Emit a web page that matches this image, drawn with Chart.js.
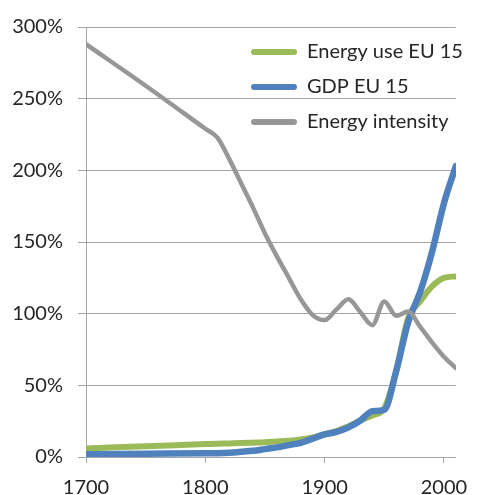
<!DOCTYPE html>
<html>
<head>
<meta charset="utf-8">
<script src="https://cdn.jsdelivr.net/npm/chart.js@4"></script>
<style>
  html, body { margin: 0; padding: 0; background: #ffffff; }
  #wrap { position: relative; width: 480px; height: 495px; }
</style>
</head>
<body>
<div id="wrap"><canvas id="c" width="480" height="495"></canvas></div>
<script>
// ---- data ----
const years = [1700, 1750, 1800, 1810, 1820, 1830, 1840, 1850, 1860, 1870, 1880, 1890, 1900, 1910, 1920, 1930, 1940, 1950, 1960, 1970, 1980, 1990, 2000, 2010];
const energyUse = [6, 7.5, 9, 9.3, 9.5, 9.7, 10, 10.3, 10.8, 11.3, 12.2, 13.6, 16, 18, 21.5, 25.5, 29, 34, 60, 97, 108.5, 119, 125, 126];
const gdp = [2, 2.3, 2.6, 2.7, 3, 3.6, 4.3, 5.5, 6.7, 8.3, 9.9, 12.8, 15.8, 17.5, 20.7, 25.5, 32, 33, 60, 94, 115, 143, 177, 203];
const energyIntensity = [288, 259, 229, 223, 208, 191, 174, 156, 140, 125, 110, 99, 95.5, 103, 110, 101, 92, 108.5, 98.5, 101.5, 91, 80, 70, 62];
const seriesNames = ['Energy use EU 15', 'GDP EU 15', 'Energy intensity'];
const xTickValues = [1700, 1800, 1900, 2000];
const yTickValues = [0, 50, 100, 150, 200, 250, 300];

const FONT = 'Lato, "Open Sans", sans-serif';
const GRID = '#a6a6a6';
const TEXT = '#262626';

function pts(arr) { return years.map((y, i) => ({ x: y, y: arr[i] })); }

const legendMover = {
  id: 'legendMover',
  afterLayout(chart) {
    const l = chart.legend;
    if (!l) return;
    const w = l.width, h = l.height;
    l.left = 236; l.top = 27;
    l.right = l.left + w; l.bottom = l.top + h;
  }
};

new Chart(document.getElementById('c'), {
  type: 'line',
  data: {
    datasets: [
      { label: seriesNames[0], data: pts(energyUse), borderColor: '#9bbb59', backgroundColor: '#9bbb59', borderWidth: 6, order: 3 },
      { label: seriesNames[1], data: pts(gdp), borderColor: '#4f81bd', backgroundColor: '#4f81bd', borderWidth: 6.5, order: 2 },
      { label: seriesNames[2], data: pts(energyIntensity), borderColor: '#979797', backgroundColor: '#979797', borderWidth: 4.5, order: 1 }
    ]
  },
  options: {
    responsive: false,
    animation: false,
    devicePixelRatio: 1,
    layout: { padding: { top: 22, right: 11, left: 0, bottom: 0 } },
    elements: {
      point: { radius: 0, hoverRadius: 0 },
      line: { cubicInterpolationMode: 'monotone', borderCapStyle: 'round', borderJoinStyle: 'round', fill: false }
    },
    plugins: {
      tooltip: { enabled: false },
      legend: {
        position: 'chartArea',
        align: 'start',
        labels: {
          font: { family: FONT, size: 20 },
          color: TEXT,
          boxWidth: 46,
          boxHeight: 6,
          padding: 15,
          useBorderRadius: true,
          borderRadius: 3,
          sort: (a, b) => a.datasetIndex - b.datasetIndex,
          generateLabels(chart) {
            const items = Chart.defaults.plugins.legend.labels.generateLabels(chart);
            items.forEach(it => { it.lineWidth = 0; });
            return items;
          }
        }
      }
    },
    scales: {
      x: {
        type: 'linear',
        min: 1700,
        max: 2010,
        afterBuildTicks(scale) { scale.ticks = xTickValues.map(v => ({ value: v })); },
        afterFit(scale) { scale.height = 38; },
        grid: { drawOnChartArea: false, drawTicks: true, tickLength: 6, color: GRID, lineWidth: 1 },
        border: { color: GRID, width: 1 },
        ticks: { font: { family: FONT, size: 20 }, color: TEXT, padding: 12.5, maxRotation: 0, callback: v => String(v) }
      },
      y: {
        type: 'linear',
        min: 0,
        max: 300,
        afterBuildTicks(scale) { scale.ticks = yTickValues.map(v => ({ value: v })); },
        afterFit(scale) { scale.width = 86; },
        grid: { drawTicks: true, tickLength: 8, color: GRID, lineWidth: 1 },
        border: { color: GRID, width: 1 },
        ticks: { font: { family: FONT, size: 20 }, color: TEXT, padding: 15, callback: v => v + '%' }
      }
    }
  },
  plugins: [legendMover]
});
</script>
</body>
</html>
